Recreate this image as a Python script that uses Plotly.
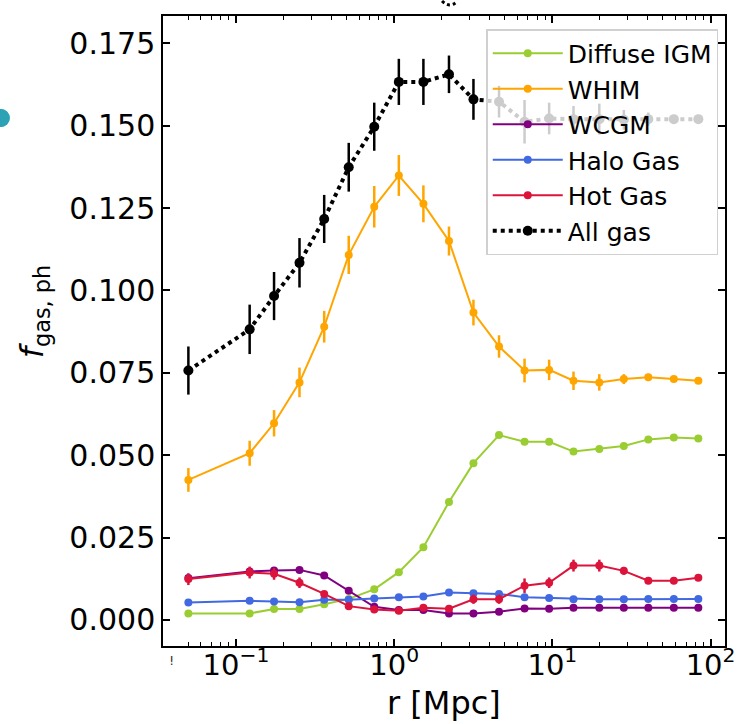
import plotly.graph_objects as go

# ---------------- data ----------------
r = [0.050, 0.122, 0.174, 0.252, 0.361, 0.516, 0.748, 1.07, 1.53, 2.22,
     3.17, 4.60, 6.67, 9.54, 13.6, 19.8, 28.3, 40.4, 58.6, 83.7]

diffuse = [0.0020, 0.0020, 0.0033, 0.0033, 0.0048, 0.0064, 0.0093, 0.0145, 0.0221, 0.0358,
           0.0476, 0.0561, 0.0541, 0.0541, 0.0511, 0.0519, 0.0528, 0.0548, 0.0554, 0.0551]
diffuse_err = [0.0002] * 20

whim = [0.0425, 0.0506, 0.0597, 0.0721, 0.0890, 0.1108, 0.1254, 0.1349, 0.1263, 0.1150,
        0.0933, 0.0830, 0.0757, 0.0759, 0.0726, 0.0721, 0.0731, 0.0737, 0.0731, 0.0726]
whim_err = [0.0036, 0.0038, 0.0040, 0.0045, 0.0048, 0.0058, 0.0063, 0.0062, 0.0056, 0.0044,
            0.0039, 0.0034, 0.0036, 0.0031, 0.0028, 0.0025, 0.0015, 0.0010, 0.0008, 0.0006]

wcgm = [0.0127, 0.0147, 0.0150, 0.0152, 0.0135, 0.0089, 0.0040, 0.0030, 0.0030, 0.0020,
        0.0020, 0.0025, 0.0035, 0.0034, 0.0037, 0.0037, 0.0037, 0.0037, 0.0037, 0.0037]
wcgm_err = [0.0004, 0.0004, 0.0004, 0.0004, 0.0003, 0.0003, 0.0002, 0.0002, 0.0002, 0.0002,
            0.0002, 0.0002, 0.0002, 0.0002, 0.0002, 0.0002, 0.0002, 0.0002, 0.0002, 0.0002]

halo = [0.0053, 0.0058, 0.0056, 0.0054, 0.0061, 0.0061, 0.0065, 0.0069, 0.0071, 0.0083,
        0.0081, 0.0079, 0.0069, 0.0067, 0.0063, 0.0063, 0.0063, 0.0064, 0.0064, 0.0064]
halo_err = [0.0002] * 20

hot = [0.0124, 0.0144, 0.0140, 0.0113, 0.0079, 0.0042, 0.0032, 0.0028, 0.0037, 0.0034,
       0.0063, 0.0063, 0.0104, 0.0113, 0.0165, 0.0165, 0.0149, 0.0119, 0.0119, 0.0128]
hot_err = [0.0018, 0.0018, 0.0018, 0.0016, 0.0008, 0.0005, 0.0004, 0.0004, 0.0005, 0.0005,
           0.0014, 0.0014, 0.0022, 0.0016, 0.0018, 0.0018, 0.0012, 0.0006, 0.0005, 0.0005]

all_gas = [0.0757, 0.0882, 0.0983, 0.1084, 0.1217, 0.1374, 0.1497, 0.1633, 0.1633, 0.1656,
           0.1580, 0.1573, 0.1512, 0.1522, 0.1520, 0.1520, 0.1518, 0.1520, 0.1520, 0.1520]
all_err = [0.0073, 0.0075, 0.0073, 0.0075, 0.0073, 0.0074, 0.0073, 0.0070, 0.0070, 0.0057,
           0.0062, 0.0048, 0.0066, 0.0048, 0.0040, 0.0047, 0.0030, 0.0020, 0.0012, 0.0008]

f_baryon = 0.1575          # horizontal dashed reference
r_lines = [0.70, 7.0]      # vertical dotted references

x_tickvals = [0.1, 1, 10, 100]
x_ticktext = ["10<sup>\u22121</sup>", "10<sup>0</sup>", "10<sup>1</sup>", "10<sup>2</sup>"]
x_minor = [0.05, 0.06, 0.07, 0.08, 0.09, 0.2, 0.3, 0.4, 0.5, 0.6, 0.7, 0.8, 0.9,
           2, 3, 4, 5, 6, 7, 8, 9, 20, 30, 40, 50, 60, 70, 80, 90]
y_tickvals = [0.000, 0.025, 0.050, 0.075, 0.100, 0.125, 0.150, 0.175]

series = [
    ("Diffuse IGM", diffuse, diffuse_err, "#9acd32"),
    ("WHIM", whim, whim_err, "#ffa500"),
    ("WCGM", wcgm, wcgm_err, "#800080"),
    ("Halo Gas", halo, halo_err, "#4169e1"),
    ("Hot Gas", hot, hot_err, "#dc143c"),
]

FONT = "DejaVu Sans"
fig = go.Figure()

for name, vals, errs, col in series:
    fig.add_trace(go.Scatter(
        x=r, y=vals, name=name, mode="lines+markers",
        line=dict(color=col, width=2),
        marker=dict(color=col, size=8),
        error_y=dict(type="data", array=errs, color=col, thickness=2.5, width=0),
    ))

fig.add_trace(go.Scatter(
    x=r, y=all_gas, name="All gas", mode="lines+markers",
    line=dict(color="black", width=4, dash="dot"),
    marker=dict(color="black", size=10),
    error_y=dict(type="data", array=all_err, color="black", thickness=2.5, width=0),
))

# reference lines
fig.add_hline(y=f_baryon, line=dict(color="#87ceeb", width=3, dash="dash"), layer="below")
for rv in r_lines:
    fig.add_vline(x=rv, line=dict(color="#aaaaaa", width=1.5, dash="dot"), layer="below")

L, R, T, B = 163, 11, 16, 78
W, H = 746, 724
pw, ph = W - L - R, H - T - B


def px(xp):
    return (xp - L) / pw


def py(yp):
    return (H - B - yp) / ph


fig.update_layout(
    width=W, height=H,
    margin=dict(l=L, r=R, t=T, b=B, pad=0),
    paper_bgcolor="white", plot_bgcolor="white",
    font=dict(family=FONT, size=29, color="black"),
    showlegend=True,
    legend=dict(
        x=px(492), y=py(29), xanchor="left", yanchor="top",
        bgcolor="rgba(255,255,255,0.8)", bordercolor="#d0d0d0", borderwidth=1.5,
        font=dict(family=FONT, size=25, color="black"),
        itemwidth=70, tracegroupgap=0,
    ),
    xaxis=dict(
        type="log", range=[-1.4615, 2.0913],
        tickvals=x_tickvals, ticktext=x_ticktext,
        ticks="inside", ticklen=7, tickwidth=1.5, tickcolor="black",
        minor=dict(tickvals=x_minor, ticks="inside", ticklen=4, tickwidth=1.2, tickcolor="black"),
        showline=True, linecolor="black", linewidth=1.5, mirror="ticks",
        showgrid=False, zeroline=False,
        tickfont=dict(family=FONT, size=29),
        ticklabelstandoff=-8,
    ),
    yaxis=dict(
        range=[-0.0079, 0.1833],
        tickvals=y_tickvals, tickformat=".3f",
        ticks="inside", ticklen=7, tickwidth=1.5, tickcolor="black",
        showline=True, linecolor="black", linewidth=1.5, mirror="ticks",
        showgrid=False, zeroline=False,
        tickfont=dict(family=FONT, size=30),
        ticklabelstandoff=0,
    ),
    annotations=[
        dict(text="r [Mpc]", xref="paper", yref="paper", x=0.5, y=py(703),
             xanchor="center", yanchor="middle", showarrow=False,
             font=dict(family=FONT, size=32)),
        dict(text="<i>f</i><sub>gas, ph</sub>", xref="paper", yref="paper",
             x=px(32), y=py(311), xanchor="center", yanchor="middle",
             textangle=-90, showarrow=False, font=dict(family=FONT, size=32)),
        dict(text="!", xref="paper", yref="paper", x=px(172), y=py(660),
             xanchor="center", yanchor="middle", showarrow=False,
             font=dict(family=FONT, size=13, color="#333333")),
    ],
    shapes=[
        dict(type="circle", xref="paper", yref="paper",
             x0=px(-11), x1=px(7), y0=py(127), y1=py(109),
             fillcolor="#2ba3b5", line=dict(width=0)),
        dict(type="path", xref="paper", yref="paper",
             path="M {:.4f},{:.4f} Q {:.4f},{:.4f} {:.4f},{:.4f}".format(
                 px(447), py(1), px(455), py(9), px(463), py(1)),
             line=dict(color="black", width=3)),
    ],
)

fig.write_html("out.html")
